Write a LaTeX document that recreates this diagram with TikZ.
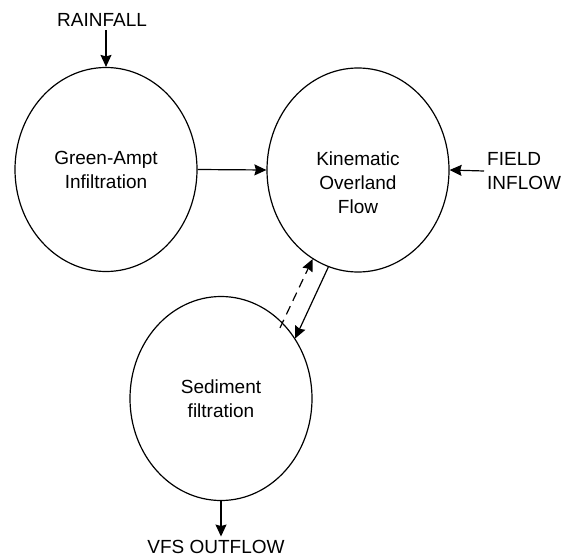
\documentclass[tikz,border=0pt]{standalone}
\usepackage{fontspec}
\setmainfont{Liberation Sans}
\usetikzlibrary{shapes.geometric,arrows.meta}
\tikzset{
  blob/.style={draw, ellipse, line width=1.2pt, minimum width=182pt, minimum height=204pt, inner sep=0pt, align=center},
  lbl/.style={inner sep=3pt, align=center},
  arr/.style={line width=1.2pt, -{Stealth[length=12pt,width=11pt,inset=1.5pt]}}
}
\begin{document}
\begin{tikzpicture}[x=1pt,y=-1pt,font=\fontsize{19}{24}\selectfont]
\useasboundingbox (0,0) rectangle (561,556);
\node[blob] (ga) at (106,169.5) {Green-Ampt\\Infiltration};
\node[blob] (kin) at (358,170) {};
\node[lbl] (kintxt) at (358,182.5) {Kinematic\\Overland\\Flow};
\node[blob] (sed) at (221,398.5) {Sediment\\filtration};
\node[lbl, anchor=base] (rain) at (102,27) {RAINFALL};
\node[lbl, anchor=west, align=left] (field) at (484,171) {FIELD\\INFLOW};
\node[lbl, anchor=base] (vfs) at (216,553) {VFS OUTFLOW};
\draw[arr] (ga.north |- rain.south) -- (ga.north);
\draw[arr] (ga.east) -- (kin.west);
\draw[arr] (field.west) -- (kin.east);
\draw[arr] (kin.-107) -- (sed.39);
\draw[arr, dash pattern=on 9pt off 6pt, shorten <=-6pt] (sed.51.5) -- (kin.-117.3);
\draw[arr] (sed.south) -- (sed.south |- vfs.north);
\end{tikzpicture}
\end{document}
